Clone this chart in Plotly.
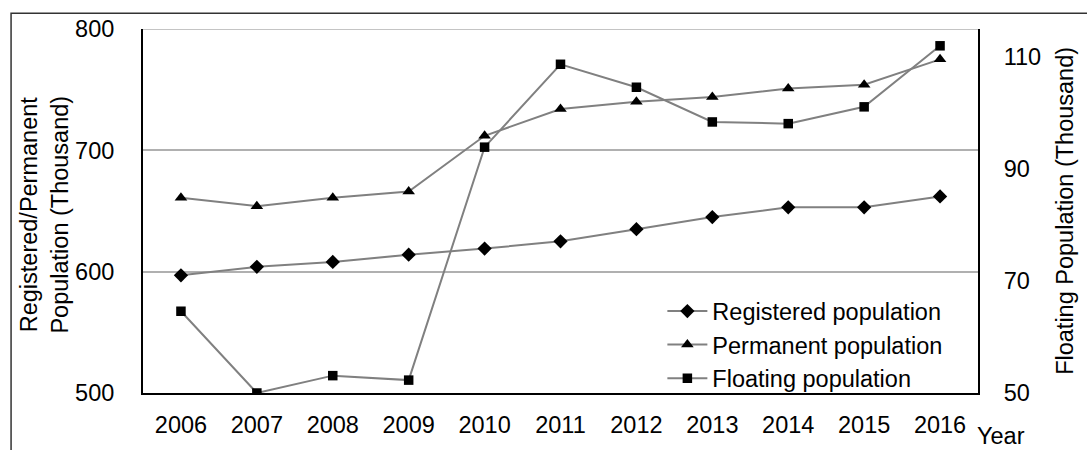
import plotly.graph_objects as go

# Population series, 2006-2016 (thousands)
years = ["2006", "2007", "2008", "2009", "2010", "2011",
         "2012", "2013", "2014", "2015", "2016"]
registered = [597, 604, 608, 614, 619, 625, 635, 645, 653, 653, 662]
permanent = [661, 654, 661, 666, 712, 734, 740, 744, 751, 754, 775]
floating = [64.6, 50.0, 53.1, 52.3, 93.9, 108.7, 104.6, 98.4, 98.1, 101.1, 112.0]

left_ticks = [500, 600, 700, 800]
right_ticks = [50, 70, 90, 110]

FONT = "Liberation Sans, Arial, sans-serif"
LINE_GRAY = "#808080"
GRID_GRAY = "#b0b0b0"
FS = 23.5

fig = go.Figure()

fig.add_trace(go.Scatter(
    x=years, y=registered, name="Registered population", mode="lines+markers",
    line=dict(color=LINE_GRAY, width=2),
    marker=dict(symbol="diamond", size=11, color="black"),
))
fig.add_trace(go.Scatter(
    x=years, y=permanent, name="Permanent population", mode="lines+markers",
    line=dict(color=LINE_GRAY, width=2),
    marker=dict(symbol="triangle-up", size=11, color="black"),
))
fig.add_trace(go.Scatter(
    x=years, y=floating, name="Floating population", mode="lines+markers",
    yaxis="y2",
    line=dict(color=LINE_GRAY, width=2),
    marker=dict(symbol="square", size=9.5, color="black"),
))

fig.update_layout(
    width=1087, height=450,
    margin=dict(l=143, r=109, t=29, b=51),
    paper_bgcolor="white", plot_bgcolor="white",
    font=dict(family=FONT, size=FS, color="black"),
    showlegend=True,
    legend=dict(
        x=0.622, y=0.285, xanchor="left", yanchor="top",
        bgcolor="rgba(0,0,0,0)", borderwidth=0,
        font=dict(family=FONT, size=FS, color="black"),
        tracegroupgap=0, itemwidth=40,
    ),
    xaxis=dict(
        type="category", range=[-0.5, 10.5],
        showline=True, linecolor="black", linewidth=2,
        showgrid=False, ticks="", ticklabelstandoff=10,
        tickfont=dict(family=FONT, size=FS, color="black"),
    ),
    yaxis=dict(
        range=[500, 800], tickvals=left_ticks,
        showline=True, linecolor="black", linewidth=2,
        showgrid=True, gridcolor=GRID_GRAY, gridwidth=1.5,
        zeroline=False, ticks="", ticklabelstandoff=22,
        tickfont=dict(family=FONT, size=FS, color="black"),
    ),
    yaxis2=dict(
        overlaying="y", side="right", range=[50, 115], tickvals=right_ticks,
        showline=True, linecolor="black", linewidth=2,
        showgrid=False, zeroline=False, ticks="", ticklabelstandoff=19,
        tickfont=dict(family=FONT, size=FS, color="black"),
    ),
)

# Top gridline at the 800 mark, along the upper plot edge
fig.add_shape(
    type="line", xref="paper", yref="y", x0=0, x1=1, y0=800, y1=800,
    line=dict(color=GRID_GRAY, width=1.5), layer="below",
)

# Axis titles
fig.add_annotation(
    text="Registered/Permanent<br>Population (Thousand)",
    xref="paper", yref="paper", x=-0.1174, y=0.49,
    showarrow=False, textangle=-90, xanchor="center", yanchor="middle",
    font=dict(family=FONT, size=FS, color="black"),
)
fig.add_annotation(
    text="Floating Population (Thousand)",
    xref="paper", yref="paper", x=1.104, y=0.5,
    showarrow=False, textangle=-90, xanchor="center", yanchor="middle",
    font=dict(family=FONT, size=FS, color="black"),
)
fig.add_annotation(
    text="Year",
    xref="paper", yref="paper", x=1.027, y=-0.118,
    showarrow=False, xanchor="center", yanchor="middle",
    font=dict(family=FONT, size=FS, color="black"),
)

# Outer chart frame (runs off the right and bottom edges)
fig.add_shape(
    type="rect", xref="paper", yref="paper",
    x0=-0.158, x1=1.3, y0=-0.3, y1=1.043,
    line=dict(color="#333333", width=1.5), layer="below",
)

fig.write_html("out.html")
